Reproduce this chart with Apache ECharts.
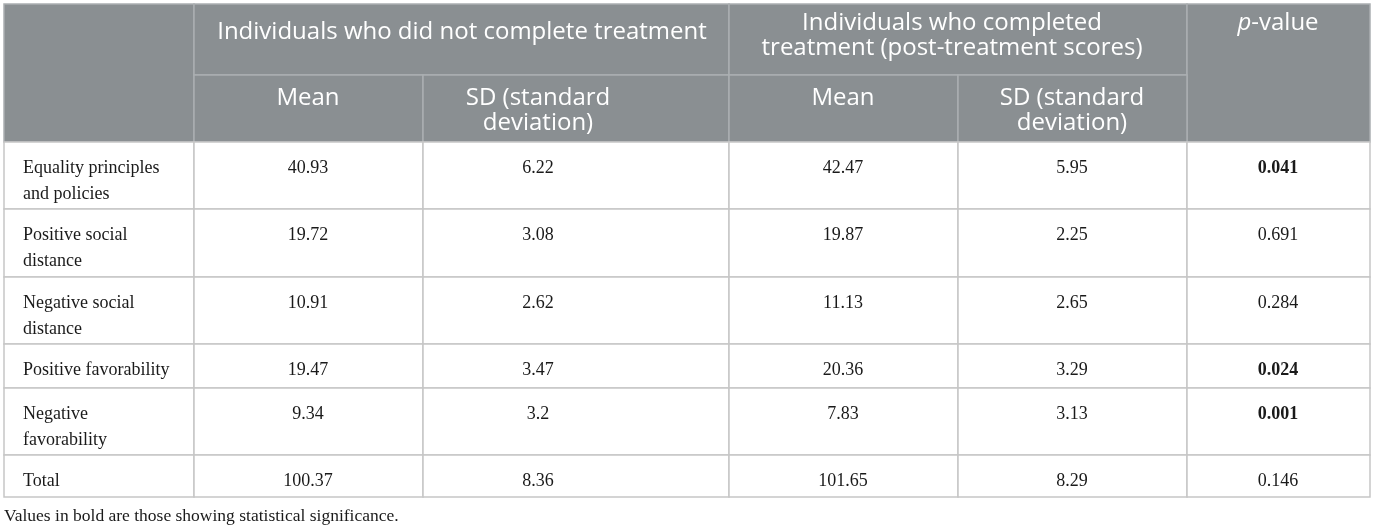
<!DOCTYPE html>
<html>
<head>
<meta charset="utf-8">
<script src="https://cdn.jsdelivr.net/npm/echarts@6/dist/echarts.min.js"></script>
<style>
  html, body { margin: 0; padding: 0; background: #fff; }
  #table { width: 1375px; height: 531px; }
</style>
</head>
<body>
<div id="table"></div>
<script>
// table content
const rowLabels = ['Equality principles\nand policies', 'Positive social\ndistance', 'Negative social\ndistance', 'Positive favorability', 'Negative\nfavorability', 'Total'];
const meanIncomplete = [40.93, 19.72, 10.91, 19.47, 9.34, 100.37];
const sdIncomplete = [6.22, 3.08, 2.62, 3.47, 3.2, 8.36];
const meanComplete = [42.47, 19.87, 11.13, 20.36, 7.83, 101.65];
const sdComplete = [5.95, 2.25, 2.65, 3.29, 3.13, 8.29];
const pValues = ['0.041', '0.691', '0.284', '0.024', '0.001', '0.146'];
const groupHeaders = ['Individuals who did not complete treatment', 'Individuals who completed\ntreatment (post-treatment scores)', '{i|p}-value'];
const subHeaders = ['Mean', 'SD (standard\ndeviation)', 'Mean', 'SD (standard\ndeviation)'];
const footnote = 'Values in bold are those showing statistical significance.';

// layout (axis units = px)
const colEdges = [4, 194, 423, 729, 958, 1187, 1370];
const rowEdges = [4, 75, 142, 209, 277, 344, 388, 455, 497];
const colTextX = [23, 308, 538, 843, 1072, 1278];

const HEAD_BG = '#8a8f92';
const HEAD_LINE = '#abafb1';
const BODY_LINE = '#c6c6c6';
const SANS = '"Open Sans", Lato, sans-serif';
const SERIF = '"Liberation Serif", "DejaVu Serif", serif';
const HEAD_SIZE = 24;
const HEAD_LH = 25.5;

// cells: [c0, c1, r0, r1, text, kind, textX, textY]
const cells = [];
cells.push([0, 1, 0, 2, '', 'head', 0, 0]);
cells.push([1, 3, 0, 1, groupHeaders[0], 'head', 462, 32]);
cells.push([3, 5, 0, 1, groupHeaders[1], 'head', 952, 23]);
cells.push([5, 6, 0, 2, groupHeaders[2], 'head', colTextX[5], 23]);
subHeaders.forEach(function(t, i) {
    cells.push([i + 1, i + 2, 1, 2, t, 'head', colTextX[i + 1], 98]);
});
rowLabels.forEach(function(label, i) {
    const r = i + 2;
    const y = rowEdges[r] + 26;
    const p = parseFloat(pValues[i]);
    cells.push([0, 1, r, r + 1, label, 'label', colTextX[0], y]);
    cells.push([1, 2, r, r + 1, String(meanIncomplete[i]), 'num', colTextX[1], y]);
    cells.push([2, 3, r, r + 1, String(sdIncomplete[i]), 'num', colTextX[2], y]);
    cells.push([3, 4, r, r + 1, String(meanComplete[i]), 'num', colTextX[3], y]);
    cells.push([4, 5, r, r + 1, String(sdComplete[i]), 'num', colTextX[4], y]);
    cells.push([5, 6, r, r + 1, pValues[i], p < 0.05 ? 'bold' : 'num', colTextX[5], y]);
});

const chart = echarts.init(document.getElementById('table'), null, { renderer: 'canvas' });

function renderCell(params, api) {
    const c0 = api.value(0), c1 = api.value(1), r0 = api.value(2), r1 = api.value(3);
    const kind = cells[params.dataIndex][5];
    const text = cells[params.dataIndex][4];
    const tl = api.coord([colEdges[c0], rowEdges[r0]]);
    const br = api.coord([colEdges[c1], rowEdges[r1]]);
    const tp = api.coord([api.value(6), api.value(7)]);
    const head = kind === 'head';
    const children = [{
        type: 'rect',
        shape: { x: tl[0], y: tl[1], width: br[0] - tl[0], height: br[1] - tl[1] },
        style: { fill: head ? HEAD_BG : '#fff', stroke: head ? HEAD_LINE : BODY_LINE, lineWidth: 1.5 }
    }];
    if (text) {
        children.push({
            type: 'text',
            style: {
                x: tp[0], y: tp[1], text: text,
                fill: head ? '#fff' : '#1a1a1a',
                fontFamily: head ? SANS : SERIF,
                fontSize: head ? HEAD_SIZE : 18,
                fontWeight: kind === 'bold' ? 'bold' : 'normal',
                align: kind === 'label' ? 'left' : 'center',
                verticalAlign: 'top',
                lineHeight: head ? HEAD_LH : 26,
                rich: { i: { fontStyle: 'italic', fontFamily: SANS, fontSize: HEAD_SIZE, fill: '#fff', lineHeight: HEAD_LH } }
            },
            // shift so first line's middle sits at textY
            y: head ? -HEAD_LH / 2 : -13
        });
    }
    return { type: 'group', children: children };
}

chart.setOption({
    animation: false,
    grid: { left: 0, right: 0, top: 0, bottom: 0 },
    xAxis: { type: 'value', min: 0, max: 1375, show: false },
    yAxis: { type: 'value', min: 0, max: 531, inverse: true, show: false },
    series: [{
        type: 'custom',
        renderItem: renderCell,
        data: cells,
        encode: { x: [0, 1, 6], y: [2, 3, 7] }
    }],
    graphic: [{
        type: 'text',
        left: 4,
        top: 507,
        style: { text: footnote, fontFamily: SERIF, fontSize: 17.5, fill: '#1a1a1a' }
    }]
});
</script>
</body>
</html>
